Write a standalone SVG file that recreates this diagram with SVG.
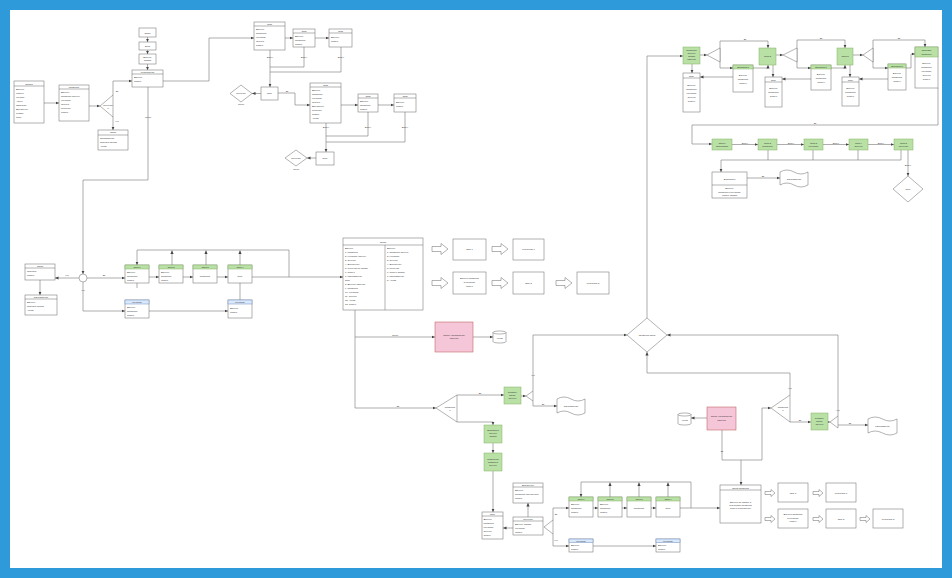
<svg xmlns="http://www.w3.org/2000/svg" width="952" height="578" viewBox="0 0 952 578">
<defs>
<style>
.w{fill:#fff;stroke:#666;stroke-width:.5}
.g{fill:#b9e0a5;stroke:#82b366;stroke-width:.5}
.bh{fill:#dae8fc;stroke:#6c8ebf;stroke-width:.5}
.p{fill:#f5c6d7;stroke:#b85450;stroke-width:.5}
.l{fill:none;stroke:#666;stroke-width:.5}
.c{fill:none;stroke:#777;stroke-width:.6;marker-end:url(#a)}
.n{fill:none;stroke:#777;stroke-width:.6}
.t{font-family:"Liberation Sans",Arial,sans-serif;font-size:2.3px;fill:#333}
.m{text-anchor:middle}
.lb{font-family:"Liberation Sans",Arial,sans-serif;font-size:2.2px;fill:#444;text-anchor:middle}
</style>
<marker id="a" markerWidth="4" markerHeight="4" refX="3.5" refY="2" orient="auto" markerUnits="userSpaceOnUse"><path d="M0,0.4 L3.5,2 L0,3.6 z" fill="#444"/></marker>
</defs>
<rect x="0" y="0" width="952" height="578" fill="#2e9ad9"/>
<rect x="10" y="10" width="932" height="558" fill="#fff"/>

<g id="connectors">
<path class="c" d="M44,103H59"/>
<path class="c" d="M89,106H100"/>
<path class="c" d="M113,95V81H132"/>
<path class="c" d="M113,117V130"/>
<path class="c" d="M147.5,37V42"/>
<path class="c" d="M147.5,50V54"/>
<path class="c" d="M147.5,64V70"/>
<path class="c" d="M163,81H209V38H254"/>
<path class="c" d="M148,87V180H83V274"/>
<path class="c" d="M285,38H293"/>
<path class="c" d="M315,38H329"/>
<path class="c" d="M270,50V87"/>
<path class="n" d="M304,47V67H270"/>
<path class="n" d="M341,47V72H270"/>
<path class="c" d="M261,93.5H252"/>
<path class="c" d="M278,93H295V105H310"/>
<path class="c" d="M341,105H358"/>
<path class="c" d="M378,105H394"/>
<path class="c" d="M326,123V152"/>
<path class="n" d="M368,112V136H326"/>
<path class="n" d="M405,112V142H326"/>
<path class="c" d="M316,158H307"/>
<path class="c" d="M40,280V295"/>
<path class="c" d="M79,278H55"/>
<path class="c" d="M87,278H125"/>
<path class="c" d="M83,282V311H125"/>
<path class="c" d="M149,277H159"/>
<path class="c" d="M183,277H193"/>
<path class="c" d="M217,277H228"/>
<path class="c" d="M252,277H343"/>
<path class="c" d="M289,277V250H137V265"/>
<path class="c" d="M172,265V250.5"/>
<path class="c" d="M206,265V250.5"/>
<path class="c" d="M240,265V250.5"/>
<path class="n" d="M137,283V288"/>
<path class="n" d="M240,283V300"/>
<path class="c" d="M149,311H228"/>
<path class="c" d="M355,310V408H436"/>
<path class="c" d="M355,337H435"/>
<path class="c" d="M473,337H493"/>
<path class="c" d="M457,395H504"/>
<path class="c" d="M521,396H526"/>
<path class="c" d="M533,391V335H627"/>
<path class="c" d="M533,401V406H557"/>
<path class="c" d="M457,422H493V425"/>
<path class="c" d="M493,443V453"/>
<path class="c" d="M493,471V512"/>
<path class="c" d="M513,528H503"/>
<path class="c" d="M528,517V503"/>
<path class="c" d="M553,520V508H569"/>
<path class="c" d="M553,534V546H569"/>
<path class="c" d="M593,508H598"/>
<path class="c" d="M622,508H627"/>
<path class="c" d="M651,508H656"/>
<path class="c" d="M680,508H720"/>
<path class="c" d="M691,508V482H581V497"/>
<path class="c" d="M610,497V482.5"/>
<path class="c" d="M639,497V482.5"/>
<path class="c" d="M668,497V482.5"/>
<path class="c" d="M593,546H656"/>
<path class="c" d="M647,318V56H683"/>
<path class="c" d="M838,416V335H667"/>
<path class="c" d="M790,395V373H647V352"/>
<path class="c" d="M790,422H811"/>
<path class="c" d="M828,422H830"/>
<path class="c" d="M838,425H868"/>
<path class="c" d="M707,418H691"/>
<path class="c" d="M722,430V460H762V408H771"/>
<path class="c" d="M741,460V485"/>
<path class="c" d="M692,64V73"/>
<path class="c" d="M700,55H707"/>
<path class="n" d="M720,41V68"/>
<path class="c" d="M720,41H768V48"/>
<path class="c" d="M720,68H733"/>
<path class="c" d="M753,68H768V65"/>
<path class="c" d="M773,65V77"/>
<path class="c" d="M733,77H700"/>
<path class="c" d="M776,55H783"/>
<path class="n" d="M797,40V68"/>
<path class="c" d="M797,40H845V48"/>
<path class="c" d="M797,68H811"/>
<path class="c" d="M831,68H845V65"/>
<path class="c" d="M850,65V77"/>
<path class="c" d="M811,79H782"/>
<path class="c" d="M853,55H863"/>
<path class="n" d="M873,40V68"/>
<path class="c" d="M873,40H925V47"/>
<path class="c" d="M873,68H888"/>
<path class="c" d="M906,68H911V54H915"/>
<path class="c" d="M888,79H859"/>
<path class="c" d="M938,88V125H692V144H712"/>
<path class="c" d="M732,144.5H758"/>
<path class="c" d="M777,144.5H804"/>
<path class="c" d="M823,144.5H849"/>
<path class="c" d="M868,144.5H894"/>
<path class="n" d="M768,150V160M813,150V160M858,150V160M901,150V160"/>
<path class="c" d="M901,160H721V172"/>
<path class="c" d="M908,150V176"/>
<path class="c" d="M747,178H780"/>
<text class="lb" x="148" y="118">Отказ</text>
<text class="lb" x="117" y="92">Да</text>
<text class="lb" x="117" y="122">Нет</text>
<text class="lb" x="270" y="58">Далее</text>
<text class="lb" x="304" y="58">Далее</text>
<text class="lb" x="341" y="58">Далее</text>
<text class="lb" x="287" y="92">Да</text>
<text class="lb" x="326" y="128">Далее</text>
<text class="lb" x="368" y="128">Далее</text>
<text class="lb" x="405" y="128">Далее</text>
<text class="lb" x="67" y="276">Нет</text>
<text class="lb" x="104" y="276">Да</text>
<text class="lb" x="83" y="291">Нет</text>
<text class="lb" x="395" y="336">Отказ</text>
<text class="lb" x="398" y="407">Да</text>
<text class="lb" x="480" y="394">Да</text>
<text class="lb" x="533" y="376">Нет</text>
<text class="lb" x="543" y="405">Да</text>
<text class="lb" x="556" y="515">Да</text>
<text class="lb" x="556" y="541">Нет</text>
<text class="lb" x="790" y="389">Нет</text>
<text class="lb" x="800" y="421">Да</text>
<text class="lb" x="838" y="411">Нет</text>
<text class="lb" x="850" y="424">Да</text>
<text class="lb" x="722" y="452">Да</text>
<text class="lb" x="745" y="40">Да</text>
<text class="lb" x="821" y="39">Да</text>
<text class="lb" x="899" y="39">Да</text>
<text class="lb" x="815" y="124">Да</text>
<text class="lb" x="745" y="143.5">Далее</text>
<text class="lb" x="791" y="143.5">Далее</text>
<text class="lb" x="836" y="143.5">Далее</text>
<text class="lb" x="881" y="143.5">Далее</text>
<text class="lb" x="908" y="166">Далее</text>
<text class="lb" x="763" y="177">Да</text>
</g>

<g id="n1"><rect class="w" x="14" y="81" width="30" height="42"/><path class="l" d="M14,86H44"/><text class="t m" x="29" y="84.5">Заявка</text><text class="t" x="16" y="90">Данные</text><text class="t" x="16" y="94">Клиент</text><text class="t" x="16" y="98">Контакт</text><text class="t" x="16" y="102">Адрес</text><text class="t" x="16" y="106">Описание</text><text class="t" x="16" y="110">Документы</text><text class="t" x="16" y="114">Сумма</text><text class="t" x="16" y="118">Срок</text></g>
<g id="n2"><rect class="w" x="59" y="85" width="30" height="36"/><path class="l" d="M59,89H89"/><text class="t m" x="74" y="88">Проверка</text><text class="t" x="61" y="93">Данные</text><text class="t" x="61" y="97">Проверка данных</text><text class="t" x="61" y="101">Контроль</text><text class="t" x="61" y="105">Оценка</text><text class="t" x="61" y="109">Решение</text><text class="t" x="61" y="113">Статус</text></g>
<g id="n3"><path class="w" d="M100,106L113,95V117Z"/><text class="t m" x="108" y="106">Решение</text><text class="t m" x="108" y="109">?</text></g>
<g id="n4"><rect class="w" x="132" y="70" width="31" height="17"/><path class="l" d="M132,74H163"/><text class="t m" x="147.5" y="73">Регистрация</text><text class="t" x="134" y="78">Данные</text><text class="t" x="134" y="82">Статус</text></g>
<g id="n5"><rect class="w" x="139" y="28" width="17" height="9"/><text class="t m" x="147.5" y="33.5">Старт</text></g>
<g id="n6"><rect class="w" x="139" y="42" width="17" height="8"/><text class="t m" x="147.5" y="47">Вход</text></g>
<g id="n7"><rect class="w" x="139" y="54" width="17" height="10"/><text class="t m" x="147.5" y="58">Данные</text><text class="t m" x="147.5" y="61">заявки</text></g>
<g id="n8"><rect class="w" x="98" y="130" width="30" height="20"/><path class="l" d="M98,135H128"/><text class="t m" x="113" y="133">Отказ</text><text class="t" x="100" y="139">Уведомление</text><text class="t" x="100" y="143">Причина отказа</text><text class="t" x="100" y="147">Архив</text></g>
<g id="n9"><rect class="w" x="254" y="22" width="31" height="28"/><path class="l" d="M254,26H285"/><text class="t m" x="269.5" y="25">Этап</text><text class="t" x="256" y="30">Данные</text><text class="t" x="256" y="34">Проверка</text><text class="t" x="256" y="38">Контроль</text><text class="t" x="256" y="42">Оценка</text><text class="t" x="256" y="46">Статус</text></g>
<g id="n10"><rect class="w" x="293" y="29" width="22" height="18"/><path class="l" d="M293,33H315"/><text class="t m" x="304" y="32">Этап</text><text class="t" x="295" y="37">Данные</text><text class="t" x="295" y="41">Проверка</text><text class="t" x="295" y="45">Статус</text></g>
<g id="n11"><rect class="w" x="329" y="29" width="23" height="18"/><path class="l" d="M329,33H352"/><text class="t m" x="340.5" y="32">Этап</text><text class="t" x="331" y="38">Данные</text><text class="t" x="331" y="42">Статус</text></g>
<g id="n12"><rect class="w" x="261" y="87" width="17" height="13"/><text class="t m" x="269.5" y="94">Итог</text></g>
<g id="n13"><path class="w" d="M241,85L252,93.5L241,102L230,93.5Z"/><text class="t m" x="241" y="94">Решение</text><text class="lb" x="241" y="105">Отказ</text></g>
<g id="n14"><rect class="w" x="310" y="83" width="31" height="40"/><path class="l" d="M310,87H341"/><text class="t m" x="325.5" y="86">Этап</text><text class="t" x="312" y="91">Данные</text><text class="t" x="312" y="95">Проверка</text><text class="t" x="312" y="99">Контроль</text><text class="t" x="312" y="103">Оценка</text><text class="t" x="312" y="107">Документы</text><text class="t" x="312" y="111">Решение</text><text class="t" x="312" y="115">Статус</text><text class="t" x="312" y="119">Архив</text></g>
<g id="n15"><rect class="w" x="358" y="94" width="20" height="18"/><path class="l" d="M358,98H378"/><text class="t m" x="368" y="97">Этап</text><text class="t" x="360" y="102">Данные</text><text class="t" x="360" y="106">Проверка</text><text class="t" x="360" y="110">Статус</text></g>
<g id="n16"><rect class="w" x="394" y="94" width="22" height="18"/><path class="l" d="M394,98H416"/><text class="t m" x="405" y="97">Этап</text><text class="t" x="396" y="103">Данные</text><text class="t" x="396" y="107">Статус</text></g>
<g id="n17"><rect class="w" x="316" y="152" width="18" height="13"/><text class="t m" x="325" y="159">Итог</text></g>
<g id="n18"><path class="w" d="M296,150L307,158L296,166L285,158Z"/><text class="t m" x="296" y="159">Решение</text><text class="lb" x="296" y="170">Отказ</text></g>

<g id="n19"><rect class="w" x="25" y="264" width="30" height="16"/><path class="l" d="M25,268H55"/><text class="t m" x="40" y="267">Отказ</text><text class="t" x="27" y="272">Причина</text><text class="t" x="27" y="276">Статус</text></g>
<g id="n20"><rect class="w" x="25" y="295" width="32" height="20"/><path class="l" d="M25,299H57"/><text class="t m" x="41" y="298">Уведомление</text><text class="t" x="27" y="303">Данные</text><text class="t" x="27" y="307">Причина отказа</text><text class="t" x="27" y="311">Архив</text></g>
<g id="n21"><circle class="w" cx="83" cy="278" r="4"/></g>
<g id="n22"><rect class="w" x="125" y="265" width="24" height="18"/><rect class="g" x="125" y="265" width="24" height="4"/><text class="t m" x="137" y="268">Этап 1</text><text class="t" x="127" y="273">Данные</text><text class="t" x="127" y="277">Проверка</text><text class="t" x="127" y="281">Статус</text></g>
<g id="n23"><rect class="w" x="159" y="265" width="24" height="18"/><rect class="g" x="159" y="265" width="24" height="4"/><text class="t m" x="171" y="268">Этап 2</text><text class="t" x="161" y="273">Данные</text><text class="t" x="161" y="277">Проверка</text><text class="t" x="161" y="281">Статус</text></g>
<g id="n24"><rect class="w" x="193" y="265" width="24" height="18"/><rect class="g" x="193" y="265" width="24" height="4"/><text class="t m" x="205" y="268">Этап 3</text><text class="t m" x="205" y="277">Проверка</text></g>
<g id="n25"><rect class="w" x="228" y="265" width="24" height="18"/><rect class="g" x="228" y="265" width="24" height="4"/><text class="t m" x="240" y="268">Этап 4</text><text class="t m" x="240" y="277">Итог</text></g>
<g id="n26"><rect class="w" x="125" y="300" width="24" height="18"/><rect class="bh" x="125" y="300" width="24" height="4"/><text class="t m" x="137" y="303">Контроль</text><text class="t" x="127" y="308">Данные</text><text class="t" x="127" y="312">Проверка</text><text class="t" x="127" y="316">Статус</text></g>
<g id="n27"><rect class="w" x="228" y="300" width="24" height="18"/><rect class="bh" x="228" y="300" width="24" height="4"/><text class="t m" x="240" y="303">Контроль</text><text class="t" x="230" y="309">Данные</text><text class="t" x="230" y="313">Статус</text></g>

<g id="n28"><rect class="w" x="343" y="238" width="80" height="72"/><path class="l" d="M343,245H423M385,245V310"/><text class="t m" x="383" y="242.5">Итоги</text>
<text class="t" x="345" y="249">Данные</text><text class="t" x="345" y="253">1. Проверка</text><text class="t" x="345" y="257">2. Контроль данных</text><text class="t" x="345" y="261">3. Оценка</text><text class="t" x="345" y="265">4. Документы</text><text class="t" x="345" y="269">5. Решение по заявке</text><text class="t" x="345" y="273">6. Статус</text><text class="t" x="345" y="277">7. Уведомление</text><text class="t" x="345" y="281">Итог</text><text class="t" x="345" y="285">8. Данные клиента</text><text class="t" x="345" y="289">9. Проверка</text><text class="t" x="345" y="293">10. Контроль</text><text class="t" x="345" y="297">11. Оценка</text><text class="t" x="345" y="301">12. Архив</text><text class="t" x="345" y="305">13. Статус</text>
<text class="t" x="387" y="249">Данные</text><text class="t" x="387" y="253">1. Проверка данных</text><text class="t" x="387" y="257">2. Контроль</text><text class="t" x="387" y="261">3. Оценка</text><text class="t" x="387" y="265">4. Документы</text><text class="t" x="387" y="269">5. Решение</text><text class="t" x="387" y="273">6. Статус заявки</text><text class="t" x="387" y="277">7. Уведомление</text><text class="t" x="387" y="281">8. Архив</text></g>
<g id="n29"><path class="w" d="M432,246.5H441V243.5L448,249L441,254.5V251.5H432Z"/></g>
<g id="n30"><rect class="w" x="453" y="239" width="33" height="21"/><text class="t m" x="469.5" y="250">Итог 1</text></g>
<g id="n31"><path class="w" d="M492,246.5H501V243.5L508,249L501,254.5V251.5H492Z"/></g>
<g id="n32"><rect class="w" x="513" y="239" width="31" height="21"/><text class="t m" x="528.5" y="250">Результат 1</text></g>
<g id="n33"><path class="w" d="M432,280.5H441V277.5L448,283L441,288.5V285.5H432Z"/></g>
<g id="n34"><rect class="w" x="453" y="272" width="33" height="22"/><text class="t m" x="469.5" y="279">Данные проверки</text><text class="t m" x="469.5" y="283">и контроль</text><text class="t m" x="469.5" y="287">статус</text></g>
<g id="n35"><path class="w" d="M492,280.5H501V277.5L508,283L501,288.5V285.5H492Z"/></g>
<g id="n36"><rect class="w" x="513" y="272" width="31" height="22"/><text class="t m" x="528.5" y="284">Итог 2</text></g>
<g id="n37"><path class="w" d="M556,280.5H565V277.5L572,283L565,288.5V285.5H556Z"/></g>
<g id="n38"><rect class="w" x="577" y="272" width="32" height="22"/><text class="t m" x="593" y="284">Результат 2</text></g>

<g id="n39"><rect class="p" x="435" y="322" width="38" height="30"/><text class="t m" x="454" y="336">Отказ: уведомление</text><text class="t m" x="454" y="339">клиента</text></g>
<g id="n40"><path class="w" d="M493,332.5C493,330.5 506,330.5 506,332.5V341.5C506,343.5 493,343.5 493,341.5Z"/><path class="l" d="M493,332.5C493,334.5 506,334.5 506,332.5"/><text class="t m" x="499.5" y="339">Архив</text></g>
<g id="n41"><path class="w" d="M436,408L457,395V422Z"/><text class="t m" x="450" y="408">Проверка</text><text class="t m" x="450" y="411">?</text></g>
<g id="n42"><rect class="g" x="504" y="387" width="17" height="17"/><text class="t m" x="512.5" y="393">Согласо-</text><text class="t m" x="512.5" y="396">вание</text><text class="t m" x="512.5" y="399">данных</text></g>
<g id="n43"><path class="w" d="M526,396L533,391V401Z"/></g>
<g id="n44"><path class="w" d="M557,399Q564,395 571,399T585,399V413Q578,417 571,413T557,413Z"/><text class="t m" x="571" y="407">Уведомление</text></g>
<g id="n45"><rect class="g" x="484" y="425" width="18" height="18"/><text class="t m" x="493" y="431">Доработка</text><text class="t m" x="493" y="434">данных</text><text class="t m" x="493" y="437">заявки</text></g>
<g id="n46"><rect class="g" x="484" y="453" width="18" height="18"/><text class="t m" x="493" y="460">Повторная</text><text class="t m" x="493" y="463">проверка</text><text class="t m" x="493" y="466">данных</text></g>
<g id="n47"><rect class="w" x="482" y="512" width="21" height="27"/><path class="l" d="M482,516H503"/><text class="t m" x="492.5" y="515">Итог</text><text class="t" x="483.5" y="520">Данные</text><text class="t" x="483.5" y="524">Проверка</text><text class="t" x="483.5" y="528">Контроль</text><text class="t" x="483.5" y="532">Оценка</text><text class="t" x="483.5" y="536">Статус</text></g>
<g id="n48"><rect class="w" x="513" y="483" width="30" height="20"/><path class="l" d="M513,487H543"/><text class="t m" x="528" y="486">Документы</text><text class="t" x="515" y="491">Данные</text><text class="t" x="515" y="495">Проверка документов</text><text class="t" x="515" y="499">Статус</text></g>
<g id="n49"><rect class="w" x="513" y="517" width="30" height="18"/><path class="l" d="M513,521H543"/><text class="t m" x="528" y="520">Решение</text><text class="t" x="515" y="525">Данные заявки</text><text class="t" x="515" y="529">Контроль</text><text class="t" x="515" y="533">Статус</text></g>
<g id="n50"><path class="w" d="M544,527L553,520V534Z"/></g>
<g id="n51"><rect class="w" x="569" y="497" width="24" height="20"/><rect class="g" x="569" y="497" width="24" height="4"/><text class="t m" x="581" y="500">Этап 1</text><text class="t" x="571" y="505">Данные</text><text class="t" x="571" y="509">Проверка</text><text class="t" x="571" y="513">Статус</text></g>
<g id="n52"><rect class="w" x="598" y="497" width="24" height="20"/><rect class="g" x="598" y="497" width="24" height="4"/><text class="t m" x="610" y="500">Этап 2</text><text class="t" x="600" y="505">Данные</text><text class="t" x="600" y="509">Проверка</text><text class="t" x="600" y="513">Статус</text></g>
<g id="n53"><rect class="w" x="627" y="497" width="24" height="20"/><rect class="g" x="627" y="497" width="24" height="4"/><text class="t m" x="639" y="500">Этап 3</text><text class="t m" x="639" y="509">Проверка</text></g>
<g id="n54"><rect class="w" x="656" y="497" width="24" height="20"/><rect class="g" x="656" y="497" width="24" height="4"/><text class="t m" x="668" y="500">Этап 4</text><text class="t m" x="668" y="509">Итог</text></g>
<g id="n55"><rect class="w" x="569" y="539" width="24" height="13"/><rect class="bh" x="569" y="539" width="24" height="3.5"/><text class="t m" x="581" y="541.8">Контроль</text><text class="t" x="571" y="546">Данные</text><text class="t" x="571" y="550">Статус</text></g>
<g id="n56"><rect class="w" x="656" y="539" width="24" height="13"/><rect class="bh" x="656" y="539" width="24" height="3.5"/><text class="t m" x="668" y="541.8">Контроль</text><text class="t" x="658" y="546">Данные</text><text class="t" x="658" y="550">Статус</text></g>

<g id="n57"><rect class="w" x="720" y="485" width="41" height="38"/><path class="l" d="M720,490H761"/><text class="t m" x="740.5" y="488.5">Итоги проверки</text><text class="t m" x="740.5" y="503">Данные по заявке и</text><text class="t m" x="740.5" y="506">результаты проверки</text><text class="t m" x="740.5" y="509">статус и документы</text></g>
<g id="n58"><path class="w" d="M765,491.5H771V489.5L775,493L771,496.5V494.5H765Z"/></g>
<g id="n59"><rect class="w" x="778" y="483" width="30" height="19"/><text class="t m" x="793" y="493.5">Итог 1</text></g>
<g id="n60"><path class="w" d="M813,491.5H819V489.5L823,493L819,496.5V494.5H813Z"/></g>
<g id="n61"><rect class="w" x="826" y="483" width="30" height="19"/><text class="t m" x="841" y="493.5">Результат 1</text></g>
<g id="n62"><path class="w" d="M765,517.5H771V515.5L775,519L771,522.5V520.5H765Z"/></g>
<g id="n63"><rect class="w" x="778" y="509" width="30" height="19"/><text class="t m" x="793" y="515">Данные проверки</text><text class="t m" x="793" y="518.5">и контроль</text><text class="t m" x="793" y="522">статус</text></g>
<g id="n64"><path class="w" d="M813,517.5H819V515.5L823,519L819,522.5V520.5H813Z"/></g>
<g id="n65"><rect class="w" x="826" y="509" width="30" height="19"/><text class="t m" x="841" y="519.5">Итог 2</text></g>
<g id="n66"><path class="w" d="M860,517.5H866V515.5L870,519L866,522.5V520.5H860Z"/></g>
<g id="n67"><rect class="w" x="873" y="509" width="30" height="19"/><text class="t m" x="888" y="519.5">Результат 2</text></g>

<g id="n68"><path class="w" d="M647,318L667,335L647,352L627,335Z"/><text class="t m" x="647" y="336">Проверка итога</text></g>
<g id="n69"><path class="w" d="M771,408L790,395V422Z"/><text class="t m" x="783" y="408">Проверка</text><text class="t m" x="783" y="411">?</text></g>
<g id="n70"><rect class="g" x="811" y="413" width="17" height="17"/><text class="t m" x="819.5" y="419">Согласо-</text><text class="t m" x="819.5" y="422">вание</text><text class="t m" x="819.5" y="425">данных</text></g>
<g id="n71"><path class="w" d="M830,422L838,416V428Z"/></g>
<g id="n72"><path class="w" d="M868,419Q875,415 882.5,419T897,419V433Q890,437 882.5,433T868,433Z"/><text class="t m" x="882.5" y="427">Уведомление</text></g>
<g id="n73"><rect class="p" x="707" y="407" width="29" height="23"/><text class="t m" x="721.5" y="417">Отказ: уведомление</text><text class="t m" x="721.5" y="420.5">клиента</text></g>
<g id="n74"><path class="w" d="M678,414.5C678,412.5 691,412.5 691,414.5V423.5C691,425.5 678,425.5 678,423.5Z"/><path class="l" d="M678,414.5C678,416.5 691,416.5 691,414.5"/><text class="t m" x="684.5" y="421">Архив</text></g>

<g id="n75"><rect class="g" x="683" y="47" width="17" height="17"/><text class="t m" x="691.5" y="51">Проверка</text><text class="t m" x="691.5" y="54">данных</text><text class="t m" x="691.5" y="57">заявки</text><text class="t m" x="691.5" y="60">клиента</text></g>
<g id="n76"><rect class="w" x="683" y="73" width="17" height="39"/><path class="l" d="M683,78H700"/><text class="t m" x="691.5" y="76.5">Итог</text><text class="t m" x="691.5" y="86">Данные</text><text class="t m" x="691.5" y="90">Проверка</text><text class="t m" x="691.5" y="94">Контроль</text><text class="t m" x="691.5" y="98">Оценка</text><text class="t m" x="691.5" y="102">Статус</text></g>
<g id="n77"><path class="w" d="M707,55L720,48V62Z"/></g>
<g id="n78"><rect class="g" x="759" y="48" width="17" height="17"/><text class="t m" x="767.5" y="57">Этап 2</text></g>
<g id="n79"><rect class="w" x="733" y="65" width="20" height="27"/><rect class="g" x="733" y="65" width="20" height="4"/><text class="t m" x="743" y="68">Доработка</text><text class="t m" x="743" y="76">Данные</text><text class="t m" x="743" y="80">Проверка</text><text class="t m" x="743" y="84">Статус</text></g>
<g id="n80"><rect class="w" x="765" y="77" width="17" height="30"/><path class="l" d="M765,82H782"/><text class="t m" x="773.5" y="80.5">Итог</text><text class="t m" x="773.5" y="89">Данные</text><text class="t m" x="773.5" y="93">Проверка</text><text class="t m" x="773.5" y="97">Статус</text></g>
<g id="n81"><path class="w" d="M783,55L797,48V62Z"/></g>
<g id="n82"><rect class="g" x="837" y="48" width="16" height="17"/><text class="t m" x="845" y="57">Этап 3</text></g>
<g id="n83"><rect class="w" x="811" y="65" width="20" height="25"/><rect class="g" x="811" y="65" width="20" height="4"/><text class="t m" x="821" y="68">Доработка</text><text class="t m" x="821" y="75">Данные</text><text class="t m" x="821" y="79">Проверка</text><text class="t m" x="821" y="83">Статус</text></g>
<g id="n84"><rect class="w" x="842" y="77" width="17" height="29"/><path class="l" d="M842,82H859"/><text class="t m" x="850.5" y="80.5">Итог</text><text class="t m" x="850.5" y="89">Данные</text><text class="t m" x="850.5" y="93">Проверка</text><text class="t m" x="850.5" y="97">Статус</text></g>
<g id="n85"><path class="w" d="M863,55L873,48V62Z"/></g>
<g id="n86"><rect class="w" x="888" y="64" width="18" height="26"/><rect class="g" x="888" y="64" width="18" height="4"/><text class="t m" x="897" y="67">Доработка</text><text class="t m" x="897" y="74">Данные</text><text class="t m" x="897" y="78">Проверка</text><text class="t m" x="897" y="82">Статус</text></g>
<g id="n87"><rect class="w" x="915" y="47" width="23" height="41"/><rect class="g" x="915" y="47" width="23" height="10"/><text class="t m" x="926.5" y="51">Итоговая</text><text class="t m" x="926.5" y="54.5">проверка</text><text class="t m" x="926.5" y="64">Данные</text><text class="t m" x="926.5" y="68">Проверка</text><text class="t m" x="926.5" y="72">Контроль</text><text class="t m" x="926.5" y="76">Оценка</text><text class="t m" x="926.5" y="80">Статус</text></g>

<g id="n88"><rect class="g" x="712" y="139" width="20" height="11"/><text class="t m" x="722" y="143.5">Этап 1</text><text class="t m" x="722" y="146.5">Подготовка</text></g>
<g id="n89"><rect class="g" x="758" y="139" width="19" height="11"/><text class="t m" x="767.5" y="143.5">Этап 2</text><text class="t m" x="767.5" y="146.5">Проверка</text></g>
<g id="n90"><rect class="g" x="804" y="139" width="19" height="11"/><text class="t m" x="813.5" y="143.5">Этап 3</text><text class="t m" x="813.5" y="146.5">Контроль</text></g>
<g id="n91"><rect class="g" x="849" y="139" width="19" height="11"/><text class="t m" x="858.5" y="143.5">Этап 4</text><text class="t m" x="858.5" y="146.5">Оценка</text></g>
<g id="n92"><rect class="g" x="894" y="139" width="19" height="11"/><text class="t m" x="903.5" y="143.5">Этап 5</text><text class="t m" x="903.5" y="146.5">Решение</text></g>
<g id="n93"><rect class="w" x="712" y="172" width="35" height="26"/><path class="l" d="M712,185H747"/><text class="t m" x="729.5" y="179.5">Доработка</text><text class="t m" x="729.5" y="189">Данные</text><text class="t m" x="729.5" y="192.5">Проверка и контроль</text><text class="t m" x="729.5" y="196">Статус заявки</text></g>
<g id="n94"><path class="w" d="M780,172Q787,168 794,172T808,172V185Q801,189 794,185T780,185Z"/><text class="t m" x="794" y="179.5">Уведомление</text></g>
<g id="n95"><path class="w" d="M908,176L923,189L908,202L893,189Z"/><text class="t m" x="908" y="189.8">Итог</text></g>
</svg>
